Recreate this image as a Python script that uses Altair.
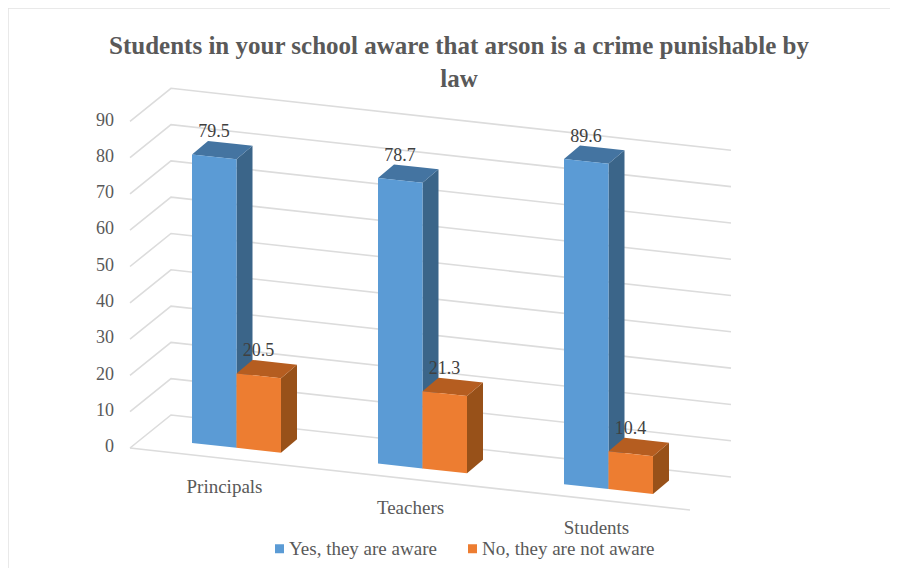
import altair as alt
import pandas as pd

# ---- values ----
categories = ["Principals", "Teachers", "Students"]
series_names = ["Yes, they are aware", "No, they are not aware"]
yes_values = [79.5, 78.7, 89.6]
no_values = [20.5, 21.3, 10.4]
axis_ticks = [0, 10, 20, 30, 40, 50, 60, 70, 80, 90]
title_lines = ["Students in your school aware that arson is a crime punishable by", "law"]

# ---- oblique projection settings (px per unit in the picture) ----
PX_V = 3.63        # px per value unit
STEP_X, STEP_Y = 186.0, 20.6   # one category along the floor
BAR_W, BAR_DROP = 44.5, 4.87   # one bar along the floor
DEPTH_X, DEPTH_Y = 16.0, 13.5  # bar depth
ORIGIN_X, ORIGIN_Y = 184.0, 435.0  # first bar foot, relative to plot origin
W, H = 882, 560
SLOPE = STEP_Y / STEP_X

x_dom = [-ORIGIN_X / STEP_X, (W - ORIGIN_X) / STEP_X]
y_dom = [(ORIGIN_Y - H) / PX_V, ORIGIN_Y / PX_V]
xs = alt.Scale(domain=x_dom, range=[0, W], nice=False, zero=False)
ys = alt.Scale(domain=y_dom, range=[H, 0], nice=False, zero=False)


def px(dx):
    return dx / STEP_X


def pv(dy):
    """dy: px downwards -> plotted value units"""
    return -dy / PX_V


def foot(cat, slot):
    """Front-left foot of a bar as (x px offset, y px offset) from first bar."""
    return cat * STEP_X + slot * BAR_W, cat * STEP_Y + slot * BAR_DROP


def faces(cat, slot, value):
    fx, fy = foot(cat, slot)
    top = fy - value * PX_V
    bot = fy
    # front face
    front = [
        dict(x=px(fx), y=pv(top), y2=pv(bot)),
        dict(x=px(fx + BAR_W), y=pv(top + BAR_DROP), y2=pv(bot + BAR_DROP)),
    ]
    # side face
    side = [
        dict(x=px(fx + BAR_W), y=pv(top + BAR_DROP), y2=pv(bot + BAR_DROP)),
        dict(x=px(fx + BAR_W + DEPTH_X), y=pv(top + BAR_DROP - DEPTH_Y), y2=pv(bot + BAR_DROP - DEPTH_Y)),
    ]
    # top face: lower edge A-B-C, upper edge A-D-C
    s = BAR_DROP / BAR_W
    top_face = [
        dict(x=px(fx), y=pv(top), y2=pv(top)),
        dict(x=px(fx + DEPTH_X), y=pv(top - DEPTH_Y), y2=pv(top + DEPTH_X * s)),
        dict(x=px(fx + BAR_W), y=pv(top - DEPTH_Y + (BAR_W - DEPTH_X) * s), y2=pv(top + BAR_DROP)),
        dict(x=px(fx + BAR_W + DEPTH_X), y=pv(top + BAR_DROP - DEPTH_Y), y2=pv(top + BAR_DROP - DEPTH_Y)),
    ]
    return front, side, top_face


palette = [
    {"front": "#5b9bd5", "side": "#3b6589", "top": "#4474a1"},
    {"front": "#ed7d31", "side": "#985119", "top": "#b55d20"},
]

# ---- grid ----
BACK_X, BACK_Y = -21.0, -28.0       # back-left corner relative to first bar foot at value 0
FRONT_X, FRONT_Y = -62.0, 5.0       # front-left floor corner
WALL_LEN = 560.0
grid_rows = []
for t in axis_ticks:
    h = t * PX_V
    grid_rows.append(dict(k=t, o=0, x=px(FRONT_X), y=pv(FRONT_Y - h)))
    grid_rows.append(dict(k=t, o=1, x=px(BACK_X), y=pv(BACK_Y - h)))
    grid_rows.append(dict(k=t, o=2, x=px(BACK_X + WALL_LEN), y=pv(BACK_Y + WALL_LEN * SLOPE - h)))
grid_rows.append(dict(k=-1, o=0, x=px(FRONT_X), y=pv(FRONT_Y)))
grid_rows.append(dict(k=-1, o=1, x=px(FRONT_X + WALL_LEN), y=pv(FRONT_Y + WALL_LEN * SLOPE)))
grid = alt.Chart(pd.DataFrame(grid_rows)).mark_line(color="#dcdcdc", strokeWidth=1.6).encode(
    x=alt.X("x:Q", scale=xs, axis=None),
    y=alt.Y("y:Q", scale=ys, axis=None),
    detail="k:N",
    order="o:Q",
)

# ---- frame ----
frame_top = alt.Chart(pd.DataFrame({"a": [0]})).mark_rule(color="#e2e2e2", strokeWidth=1.5).encode(
    x=alt.value(0), x2=alt.value(W), y=alt.value(0))
frame_left = alt.Chart(pd.DataFrame({"a": [0]})).mark_rule(color="#e2e2e2", strokeWidth=1.5).encode(
    x=alt.value(0), y=alt.value(0), y2=alt.value(H))

# ---- bars ----
bar_layers = []
for slot, values in enumerate([yes_values, no_values]):
    side_rows, top_rows, front_rows = [], [], []
    for cat, v in enumerate(values):
        f, s, t = faces(cat, slot, v)
        for r in f:
            front_rows.append(dict(r, cat=cat, series=series_names[slot]))
        for r in s:
            side_rows.append(dict(r, cat=cat))
        for r in t:
            top_rows.append(dict(r, cat=cat))
    for rows, col in ((side_rows, palette[slot]["side"]), (top_rows, palette[slot]["top"])):
        bar_layers.append(
            alt.Chart(pd.DataFrame(rows)).mark_area(color=col, orient="vertical").encode(
                x=alt.X("x:Q", scale=xs, axis=None),
                y=alt.Y("y:Q", scale=ys, axis=None, stack=None),
                y2="y2:Q",
                detail="cat:N",
            )
        )
    bar_layers.append(
        alt.Chart(pd.DataFrame(front_rows)).mark_area(orient="vertical").encode(
            x=alt.X("x:Q", scale=xs, axis=None),
            y=alt.Y("y:Q", scale=ys, axis=None, stack=None),
            y2="y2:Q",
            detail="cat:N",
            color=alt.Color(
                "series:N",
                scale=alt.Scale(domain=series_names, range=[p["front"] for p in palette]),
                legend=alt.Legend(
                    orient="none", legendX=262, legendY=531, direction="horizontal", columns=2,
                    title=None, symbolType="square", symbolSize=81, symbolStrokeWidth=0,
                    labelFont="Liberation Serif", labelFontSize=19, labelColor="#595959",
                    labelLimit=400, columnPadding=26, labelOffset=0, padding=0,
                ),
            ),
        )
    )

# ---- texts ----
SERIF = "Liberation Serif"
label_rows = []
for slot, values in enumerate([yes_values, no_values]):
    for cat, v in enumerate(values):
        fx, fy = foot(cat, slot)
        label_rows.append(dict(x=px(fx + 22), y=pv(fy - v * PX_V - 22), t=f"{v:.1f}"))
data_labels = alt.Chart(pd.DataFrame(label_rows)).mark_text(
    font=SERIF, fontSize=18, color="#404040", baseline="middle").encode(
    x=alt.X("x:Q", scale=xs, axis=None), y=alt.Y("y:Q", scale=ys, axis=None), text="t:N")

tick_rows = [dict(x=px(114 - 192), y=pv(4.2 - t * PX_V), t=str(t)) for t in axis_ticks]
tick_labels = alt.Chart(pd.DataFrame(tick_rows)).mark_text(
    font=SERIF, fontSize=18, color="#595959", baseline="middle", align="right").encode(
    x=alt.X("x:Q", scale=xs, axis=None), y=alt.Y("y:Q", scale=ys, axis=None), text="t:N")

cat_rows = []
for cat, name in enumerate(categories):
    fx, fy = foot(cat, 0)
    cat_rows.append(dict(x=px(fx + 32.5), y=pv(fy + 44), t=name))
cat_labels = alt.Chart(pd.DataFrame(cat_rows)).mark_text(
    font=SERIF, fontSize=19, color="#595959", baseline="middle").encode(
    x=alt.X("x:Q", scale=xs, axis=None), y=alt.Y("y:Q", scale=ys, axis=None), text="t:N")

title_layers = [
    alt.Chart(pd.DataFrame({"t": [line]})).mark_text(
        font=SERIF, fontSize=25, fontWeight="bold", color="#595959", baseline="middle").encode(
        x=alt.value(451), y=alt.value(38 + 33 * i), text="t:N")
    for i, line in enumerate(title_lines)
]

chart = alt.layer(
    frame_top, frame_left, grid, *bar_layers, tick_labels, cat_labels, data_labels, *title_layers
).resolve_scale(color="shared").properties(
    width=W, height=H, padding=0, background="white",
    autosize=alt.AutoSizeParams(type="none"),
).configure_view(stroke=None)

chart.save("out.html", embed_options={"renderer": "svg", "actions": False})
